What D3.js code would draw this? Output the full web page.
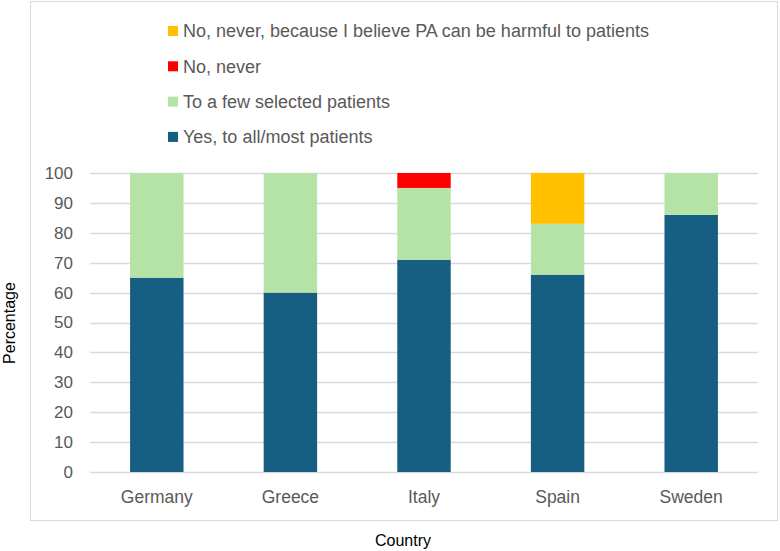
<!DOCTYPE html>
<html>
<head>
<meta charset="utf-8">
<script src="https://cdn.jsdelivr.net/npm/d3@7"></script>
<style>
  body { margin: 0; background: #fff; }
  text { font-family: "Liberation Sans", Arial, sans-serif; }
</style>
</head>
<body>
<svg width="780" height="551"></svg>
<script>
// data
const countries = ['Germany', 'Greece', 'Italy', 'Spain', 'Sweden'];
const yesAll = [65, 60, 71, 66, 86];
const fewSelected = [35, 40, 24, 17, 14];
const noNever = [0, 0, 5, 0, 0];
const noHarmful = [0, 0, 0, 17, 0];
const yTicks = [0, 10, 20, 30, 40, 50, 60, 70, 80, 90, 100];

const seriesKeys = ['yes', 'few', 'never', 'harmful'];
const seriesLabels = {
  yes: 'Yes, to all/most patients',
  few: 'To a few selected patients',
  never: 'No, never',
  harmful: 'No, never, because I believe PA can be harmful to patients'
};
const colors = { yes: '#175f82', few: '#b4e3a5', never: '#ff0000', harmful: '#ffc000' };

const rows = countries.map((c, i) => ({
  country: c, yes: yesAll[i], few: fewSelected[i], never: noNever[i], harmful: noHarmful[i]
}));

const svg = d3.select('svg');

// outer chart frame
svg.append('rect')
  .attr('x', 30.5).attr('y', 1.5)
  .attr('width', 747).attr('height', 519)
  .attr('fill', 'none').attr('stroke', '#d9d9d9');

const margin = { top: 173, left: 90, right: 22, bottom: 79 };
const innerWidth = 780 - margin.left - margin.right;
const innerHeight = 551 - margin.top - margin.bottom;

const xScale = d3.scaleBand()
  .domain(countries)
  .range([0, innerWidth])
  .paddingInner(0.6).paddingOuter(0.3);

const yScale = d3.scaleLinear()
  .domain([0, 100])
  .range([innerHeight, 0]);

const g = svg.append('g')
  .attr('transform', `translate(${margin.left}, ${margin.top})`);

// gridlines
g.selectAll('.grid').data(yTicks)
  .enter().append('line')
  .attr('x1', 0).attr('x2', innerWidth)
  .attr('y1', d => Math.round(yScale(d)) + 0.5)
  .attr('y2', d => Math.round(yScale(d)) + 0.5)
  .attr('stroke', '#d9d9d9').attr('stroke-width', 1.3);

// y tick labels
g.selectAll('.ytick').data(yTicks)
  .enter().append('text')
  .attr('x', -17)
  .attr('y', d => yScale(d))
  .attr('dy', '0.35em')
  .attr('text-anchor', 'end')
  .attr('font-size', 17)
  .attr('fill', '#595959')
  .text(d => d);

// stacked bars
const stacked = d3.stack().keys(seriesKeys)(rows);
g.selectAll('.layer').data(stacked)
  .enter().append('g')
  .attr('fill', d => colors[d.key])
  .selectAll('rect').data(d => d)
  .enter().append('rect')
  .attr('x', d => xScale(d.data.country))
  .attr('width', xScale.bandwidth())
  .attr('y', d => yScale(d[1]))
  .attr('height', d => yScale(d[0]) - yScale(d[1]));

// category labels
g.selectAll('.xtick').data(countries)
  .enter().append('text')
  .attr('x', d => xScale(d) + xScale.bandwidth() / 2)
  .attr('y', innerHeight + 31)
  .attr('text-anchor', 'middle')
  .attr('font-size', 17.5)
  .attr('fill', '#595959')
  .text(d => d);

// axis titles
svg.append('text')
  .attr('x', 403).attr('y', 546)
  .attr('text-anchor', 'middle')
  .attr('font-size', 16)
  .attr('fill', '#000')
  .text('Country');

svg.append('text')
  .attr('transform', 'translate(15, 323) rotate(-90)')
  .attr('text-anchor', 'middle')
  .attr('font-size', 16)
  .attr('fill', '#000')
  .text('Percentage');

// legend (reverse order, top = last series)
const legendKeys = seriesKeys.slice().reverse();
const legend = svg.append('g').attr('transform', 'translate(168, 31)');
const item = legend.selectAll('.item').data(legendKeys)
  .enter().append('g')
  .attr('transform', (d, i) => `translate(0, ${i * 35.3})`);
item.append('rect')
  .attr('x', 0).attr('y', -5)
  .attr('width', 10).attr('height', 10)
  .attr('fill', d => colors[d]);
item.append('text')
  .attr('x', 15).attr('y', 0).attr('dy', '0.35em')
  .attr('font-size', 18)
  .attr('fill', '#595959')
  .text(d => seriesLabels[d]);
</script>
</body>
</html>
